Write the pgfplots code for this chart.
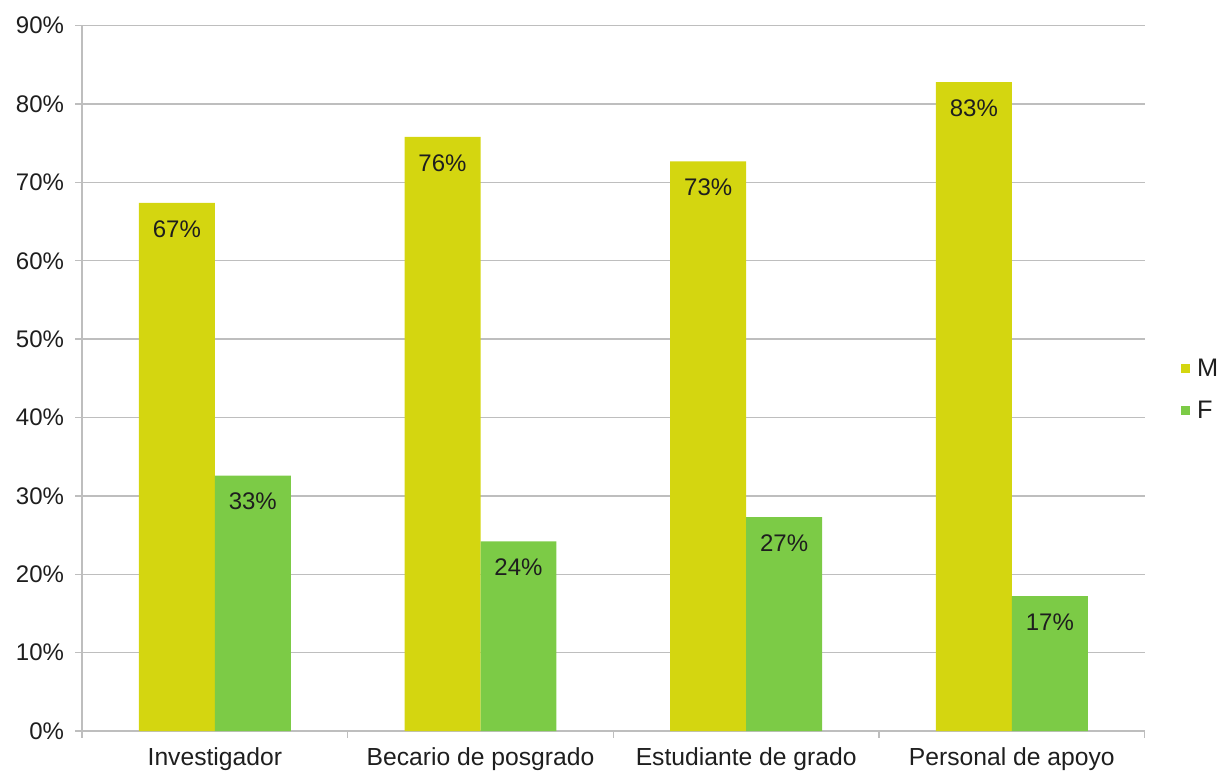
\documentclass[border=0pt]{standalone}
\usepackage{pgfplots}
\pgfplotsset{compat=1.18}
\usepackage{fontspec}
\setmainfont{Liberation Sans}

\definecolor{barM}{HTML}{D4D610}
\definecolor{barF}{HTML}{7CCB46}
\definecolor{gridgray}{HTML}{BEBEBE}
\definecolor{txt}{HTML}{1E1E1E}

\begin{document}
\begin{tikzpicture}[x=1pt,y=1pt]
\begin{axis}[
  at={(61.5pt,33pt)}, anchor=south west,
  scale only axis,
  width=797pt, height=529pt,
  ybar=0pt,
  bar width=0.286,
  xmin=-0.5, xmax=3.5,
  ymin=0, ymax=90,
  xtick={0,1,2,3},
  xticklabels={Investigador, Becario de posgrado, Estudiante de grado, Personal de apoyo},
  minor xtick={-0.5,0.5,1.5,2.5,3.5},
  ytick={0,10,...,90},
  yticklabel={\pgfmathprintnumber{\tick}\%},
  /pgf/number format/assume math mode=true,
  tick align=outside,
  major x tick style={draw=none},
  minor x tick style={draw=gridgray, line width=1pt},
  minor tick length=5pt,
  major tick length=5pt,
  y tick style={draw=gridgray, line width=1pt},
  ymajorgrids,
  grid style={draw=gridgray, line width=1pt},
  axis x line*=bottom,
  axis y line*=left,
  axis line style={draw=gridgray, line width=1pt, -},
  yticklabel style={font=\fontsize{18}{21}\selectfont, text=txt, xshift=-5pt},
  xticklabel style={font=\fontsize{18.5}{22}\selectfont, text=txt, yshift=-4pt},
  nodes near coords={\pgfmathprintnumber[fixed,precision=0]{\pgfplotspointmeta}\%},
  nodes near coords align={below},
  every node near coord/.append style={font=\fontsize{18}{21}\selectfont, text=txt, anchor=north, inner sep=0pt, yshift=-13pt},
  legend style={at={(1.034,0.484)}, anchor=west, draw=none, fill=none,
    font=\fontsize{19}{22}\selectfont, text=txt,
    row sep=13pt, inner sep=0pt},
  legend cell align=left,
  legend image code/.code={\fill (0pt,-3.5pt) rectangle (7pt,3.5pt); \path (10pt,0pt);},
]
\addplot[fill=barM, draw=none] coordinates {(0,67.4) (1,75.8) (2,72.7) (3,82.8)};
\addplot[fill=barF, draw=none] coordinates {(0,32.6) (1,24.2) (2,27.3) (3,17.2)};
\legend{M, F}
\end{axis}
\pgfresetboundingbox
\path (0,0) rectangle (915pt,581.25pt);
\end{tikzpicture}
\end{document}
